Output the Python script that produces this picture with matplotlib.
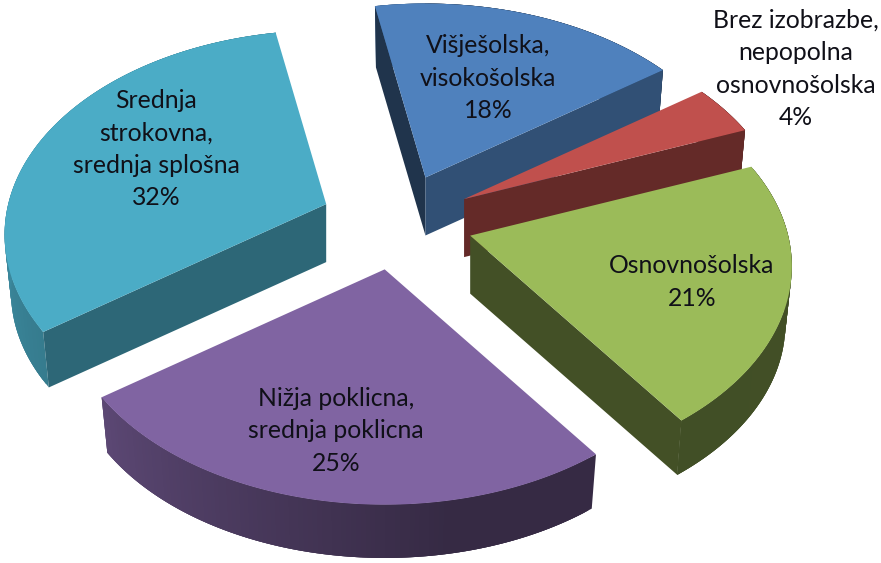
import numpy as np
import matplotlib
matplotlib.use("Agg")
import matplotlib.pyplot as plt
from matplotlib.colors import to_rgb

# Data
categories = ["Višješolska,\nvisokošolska", "Brez izobrazbe,\nnepopolna\nosnovnošolska",
              "Osnovnošolska", "Nižja poklicna,\nsrednja poklicna",
              "Srednja\nstrokovna,\nsrednja splošna"]
values = [18, 4, 21, 25, 32]

# Styles
colors = ["#4f81bd", "#c0504d", "#9bbb59", "#8064a2", "#4bacc6"]
start_shade = [0.40, 0.5, 0.43, 0.5, 0.60]
end_shade = [0.62, 0.52, 0.43, 0.5, 0.5]
label_xy = [(488, 78), (796, 69), (692, 282), (336, 431), (156, 149)]

# Layout of the projected pie (pixels)
START = 349.5
CX, CY = 397.0, 222.0
RX, RY = 318.0, 200.0
PERSP = 0.15
EXPLODE = 0.24
DEPTH = 58.0
BOTTOM_SCALE = 0.98
DRAW_ORDER = [0, 1, 2, 4, 3]

fig = plt.figure(figsize=(8.81, 5.63), dpi=100)
ax = fig.add_axes([0, 0, 1, 1])
ax.set_xlim(0, 881)
ax.set_ylim(563, 0)
ax.axis("off")


def project(theta_deg):
    t = np.radians(theta_deg)
    u, v = np.sin(t), np.cos(t)
    w = 1 + PERSP * v
    return u * RX / w, -v * RY / w


def shade(color, f):
    return tuple(c * f for c in to_rgb(color))


def rim_factor(theta):
    return float(np.interp(theta, [0, 170, 235, 285, 360], [0.43, 0.42, 0.72, 0.85, 0.7]))


def face_visible(ax0, ay0, tip_x, tip_y, in_x, in_y):
    """A radial side shows when moving down from its edge leaves the slice."""
    ex, ey = tip_x - ax0, tip_y - ay0
    inside = ex * (in_y - ay0) - ey * (in_x - ax0)
    return inside * ex < 0


fractions = np.array(values, dtype=float) / np.sum(values)
edges = START + 360.0 * np.concatenate([[0], np.cumsum(fractions)])

for i in DRAW_ORDER:
    a0, a1 = edges[i], edges[i + 1]
    mid = np.radians((a0 + a1) / 2)
    ax0 = CX + EXPLODE * RX * np.sin(mid)
    ay0 = CY - EXPLODE * RY * np.cos(mid)
    th = np.linspace(a0, a1, 120)
    dx, dy = project(th)
    tx, ty = ax0 + dx, ay0 + dy
    bx, by = ax0 + dx * BOTTOM_SCALE, ay0 + dy * BOTTOM_SCALE + DEPTH
    ab = (ax0, ay0 + DEPTH)
    col = colors[i]
    # outer rim, shaded along its arc; each piece overlaps the next to hide seams
    for j in range(len(th) - 1):
        k = min(j + 3, len(th) - 1)
        c = shade(col, rim_factor((th[j] + th[j + 1]) / 2 % 360))
        ax.fill([tx[j], tx[k], bx[k], bx[j]], [ty[j], ty[k], by[k], by[j]],
                color=c, lw=0, zorder=1)
    # radial side faces
    mx, my = tx[len(th) // 2], ty[len(th) // 2]
    if face_visible(ax0, ay0, tx[0], ty[0], mx, my):
        ax.fill([ax0, tx[0], bx[0], ab[0]], [ay0, ty[0], by[0], ab[1]],
                color=shade(col, start_shade[i]), lw=0, zorder=1)
    if face_visible(ax0, ay0, tx[-1], ty[-1], mx, my):
        ax.fill([ax0, tx[-1], bx[-1], ab[0]], [ay0, ty[-1], by[-1], ab[1]],
                color=shade(col, end_shade[i]), lw=0, zorder=1)
    # top face
    ax.fill(np.r_[ax0, tx], np.r_[ay0, ty], color=col, lw=0, zorder=1)

for name, v, (x, y) in zip(categories, values, label_xy):
    ax.text(x, y, f"{name}\n{v}%", ha="center", va="center", multialignment="center",
            fontsize=17.8, family="Lato", color="#101018", linespacing=1.49, zorder=5)

fig.savefig("out.png", dpi=100)
